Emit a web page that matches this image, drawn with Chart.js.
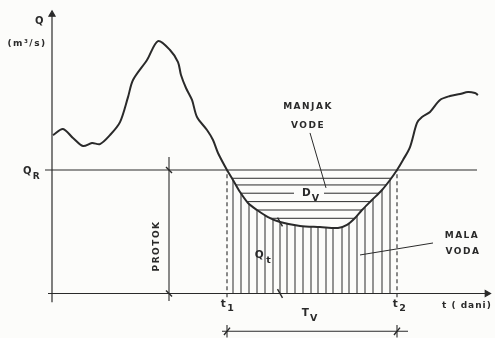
<!DOCTYPE html>
<html>
<head>
<meta charset="utf-8">
<script src="https://cdn.jsdelivr.net/npm/chart.js@4/dist/chart.umd.min.js"></script>
<style>
  html, body { margin: 0; padding: 0; background: #fcfcfa; }
  canvas { display: block; }
</style>
</head>
<body>
<canvas id="myChart" width="495" height="338"></canvas>
<script>
// hydrograph, t in days, Q in m3/s (arbitrary units)
const curveT = [0.1, 1.1, 2.1, 3.1, 4.0, 4.8, 5.8, 6.8, 7.6, 8.1, 9.5, 10.6, 11.8, 12.6, 12.9, 13.4, 14.0, 14.5,
  15.5, 16.1, 16.6, 17.5, 18.1, 18.8, 19.6, 20.5, 21.6, 22.8, 24.8, 26.8, 28.6, 29.5, 30.3, 31.0, 32.0, 33.0,
  33.8, 34.5, 35.1, 35.8, 36.5, 37.0, 37.8, 38.8, 39.8, 40.8, 41.6, 42.3, 42.6];
const curveQ = [12.83, 13.32, 12.59, 11.94, 12.19, 12.1, 12.83, 13.88, 15.9, 17.29, 18.91, 20.44, 19.72, 18.74, 17.69, 16.64, 15.67, 14.29,
  13.24, 12.43, 11.38, 10.0, 9.19, 8.22, 7.33, 6.76, 6.19, 5.79, 5.47, 5.38, 5.3, 5.55, 6.11, 6.76, 7.57, 8.38,
  9.19, 10.0, 10.81, 11.86, 13.81, 14.29, 14.7, 15.67, 15.99, 16.15, 16.32, 16.23, 16.07];

const qR = 10;          // reference discharge Q_R
const t1 = 17.5;        // start of low water
const t2 = 34.5;        // end of low water
const protokT = 11.7;
const qtT = 22.8;
const hatchLevels = [9.33, 8.79, 8.12, 7.44, 6.76, 6.09];
const hatchTimes = [18.1, 18.9, 19.7, 20.5, 21.3, 22.1, 22.8, 23.5, 24.3, 25.1, 25.9, 26.6, 27.4, 28.1,
  29.0, 29.7, 30.5, 31.3, 32.1, 33.0, 33.8];
const tvLevel = -3.06;

const ink = '#2a2a2a';
const bg = '#fcfcfa';

function curveAt(t) {
    for (let i = 0; i < curveT.length - 1; i++) {
        if (t >= curveT[i] && t <= curveT[i + 1]) {
            const f = (t - curveT[i]) / (curveT[i + 1] - curveT[i]);
            return curveQ[i] + f * (curveQ[i + 1] - curveQ[i]);
        }
    }
    return 0;
}

// crossings of the curve with a level, between t1 and t2
function crossings(q) {
    const res = [];
    for (let i = 0; i < curveT.length - 1; i++) {
        if (curveT[i] < t1 - 0.1 || curveT[i + 1] > t2 + 0.1) continue;
        const a = curveQ[i], b = curveQ[i + 1];
        if ((a - q) * (b - q) <= 0 && a !== b) {
            res.push(curveT[i] + (q - a) / (b - a) * (curveT[i + 1] - curveT[i]));
        }
    }
    return [res[0], res[res.length - 1]];
}

function seg(x1, y1, x2, y2, width, dash) {
    return {
        data: [{x: x1, y: y1}, {x: x2, y: y2}],
        borderColor: ink,
        borderWidth: width || 1.1,
        borderDash: dash || [],
        pointRadius: 0,
        showLine: true,
        tension: 0,
    };
}

const datasets = [];

// hydrograph
datasets.push({
    data: curveT.map((t, i) => ({x: t, y: curveQ[i]})),
    borderColor: ink,
    borderWidth: 2,
    pointRadius: 0,
    showLine: true,
    tension: 0.3,
});

// axes with arrow heads
datasets.push({
    data: [{x: 0, y: -0.7}, {x: 0, y: 22.6}],
    borderColor: ink, borderWidth: 1.2, showLine: true,
    pointRadius: [0, 3.5], pointStyle: 'triangle', pointRotation: 0,
    pointBackgroundColor: ink, pointBorderColor: ink,
});
datasets.push({
    data: [{x: -0.4, y: 0}, {x: 43.5, y: 0}],
    borderColor: ink, borderWidth: 1.2, showLine: true,
    pointRadius: [0, 3.5], pointStyle: 'triangle', pointRotation: 90,
    pointBackgroundColor: ink, pointBorderColor: ink,
});

// Q_R line
datasets.push(seg(-0.7, qR, 42.5, qR, 1.2));

// PROTOK line with ticks
datasets.push(seg(protokT, -0.6, protokT, 11.05, 1.1));
datasets.push(seg(protokT - 0.3, qR + 0.25, protokT + 0.3, qR - 0.25, 1.4));
datasets.push(seg(protokT - 0.3, 0.25, protokT + 0.3, -0.25, 1.4));

// t1 / t2 dashed lines
datasets.push(seg(t1, -0.3, t1, qR, 1.1, [4, 3]));
datasets.push(seg(t2, -0.3, t2, qR, 1.1, [4, 3]));

// horizontal hatching (high water deficit)
hatchLevels.forEach(q => {
    const c = crossings(q);
    datasets.push(seg(c[0], q, c[1], q, 1));
});

// vertical hatching (low water)
hatchTimes.forEach(t => {
    datasets.push(seg(t, 0, t, curveAt(t), 1));
});

// Qt marks
datasets.push(seg(qtT - 0.25, curveAt(qtT) + 0.35, qtT + 0.25, curveAt(qtT) - 0.35, 1.4));
datasets.push(seg(qtT - 0.25, 0.35, qtT + 0.25, -0.35, 1.4));

// Tv dimension line
datasets.push(seg(17.0, tvLevel, 35.6, tvLevel, 1.1));
[t1, t2].forEach(t => {
    datasets.push(seg(t, tvLevel + 0.5, t, tvLevel - 0.5, 1.1));
    datasets.push(seg(t - 0.3, tvLevel - 0.3, t + 0.3, tvLevel + 0.3, 1.4));
});

// leaders
datasets.push(seg(25.8, 13.0, 27.4, 8.55, 1));
datasets.push(seg(38.1, 4.09, 30.8, 3.12, 1));

const labels = [
    {t: -1.2, q: 22.0, text: 'Q', size: 10},
    {t: -2.5, q: 20.2, text: '(m³/s)', size: 9},
    {t: -2.4, q: 9.9, text: 'Q', size: 10, sub: 'R'},
    {t: 25.6, q: 15.1, text: 'MANJAK', size: 9},
    {t: 25.6, q: 13.6, text: 'VODE', size: 9},
    {t: 25.5, q: 8.12, text: 'D', size: 10.5, sub: 'V', box: true},
    {t: 20.8, q: 3.1, text: 'Q', size: 10.5, sub: 't'},
    {t: 41.0, q: 4.7, text: 'MALA', size: 9},
    {t: 41.1, q: 3.4, text: 'VODA', size: 9},
    {t: 17.2, q: -0.85, text: 't', size: 10.5, sub: '1'},
    {t: 34.4, q: -0.85, text: 't', size: 10.5, sub: '2'},
    {t: 25.4, q: -1.6, text: 'T', size: 10.5, sub: 'V'},
];

const textPlugin = {
    id: 'texts',
    afterDatasetsDraw(chart) {
        const ctx = chart.ctx;
        const xs = chart.scales.x, ys = chart.scales.y;
        ctx.save();
        ctx.fillStyle = ink;
        ctx.textBaseline = 'middle';
        ctx.textAlign = 'center';
        ctx.letterSpacing = '1.5px';
        labels.forEach(l => {
            const x = xs.getPixelForValue(l.t);
            const y = ys.getPixelForValue(l.q);
            ctx.font = 'bold ' + l.size + 'px "DejaVu Sans"';
            if (l.box) {
                ctx.fillStyle = bg;
                ctx.fillRect(x - 13, y - 6, 30, 12);
                ctx.fillStyle = ink;
            }
            ctx.fillText(l.text, x, y);
            if (l.sub) {
                const w = ctx.measureText(l.text).width;
                ctx.font = 'bold ' + (l.size - 1) + 'px "DejaVu Sans"';
                ctx.fillText(l.sub, x + w / 2 + 4, y + 5);
            }
        });
        // axis label, cut at the right edge like the original
        ctx.textAlign = 'left';
        ctx.font = 'bold 9px "DejaVu Sans"';
        ctx.letterSpacing = '1px';
        ctx.fillText('t ( dani)', xs.getPixelForValue(39.0), ys.getPixelForValue(-0.95));
        // PROTOK vertical text
        ctx.save();
        ctx.translate(xs.getPixelForValue(10.5), ys.getPixelForValue(3.85));
        ctx.rotate(-Math.PI / 2);
        ctx.textAlign = 'center';
        ctx.font = 'bold 9px "DejaVu Sans"';
        ctx.letterSpacing = '1.5px';
        ctx.fillText('PROTOK', 0, 0);
        ctx.restore();
        ctx.restore();
    }
};

new Chart('myChart', {
    type: 'scatter',
    data: {datasets: datasets},
    options: {
        responsive: false,
        animation: false,
        layout: {padding: 0, autoPadding: false},
        plugins: {legend: {display: false}, tooltip: {enabled: false}},
        scales: {
            x: {type: 'linear', display: false, min: -5.2, max: 44.3},
            y: {type: 'linear', display: false, min: -3.603, max: 23.765},
        },
    },
    plugins: [textPlugin],
});
</script>
</body>
</html>
